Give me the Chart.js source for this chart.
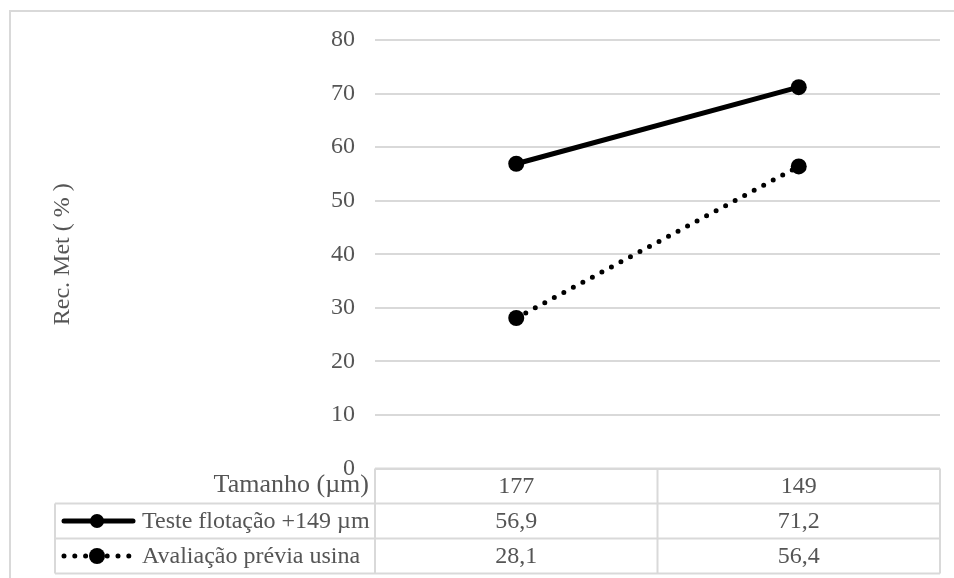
<!DOCTYPE html>
<html>
<head>
<meta charset="utf-8">
<script src="https://cdn.jsdelivr.net/npm/chart.js@4"></script>
<style>
  html, body { margin: 0; padding: 0; background: #fff; }
  #wrap { position: relative; width: 954px; height: 578px; }
</style>
</head>
<body>
<div id="wrap"><canvas id="c"></canvas></div>
<script>
// Recovery chart with an Excel-style data table under the plot.
const sizes = ['177', '149'];
const testeFlotacao = [56.9, 71.2];
const avaliacaoPrevia = [28.1, 56.4];
const seriesNames = ['Teste flotação +149 µm', 'Avaliação prévia usina'];
const yTicks = [0, 10, 20, 30, 40, 50, 60, 70, 80];

const FONT = '"Liberation Serif", "Times New Roman", serif';
const TEXT = '#555555';
const GRID = '#d9d9d9';

const fmt = v => v.toFixed(1).replace('.', ',');

// Draws the outer frame and the data table (header row + one row per series).
const dataTable = {
    id: 'dataTable',
    beforeDraw(chart) {
        const ctx = chart.ctx;
        ctx.save();
        ctx.strokeStyle = GRID;
        ctx.lineWidth = 2;
        ctx.strokeRect(10, 11, 1000, 1000);
        ctx.restore();
    },
    afterDraw(chart) {
        const ctx = chart.ctx;
        const x = chart.scales.x;
        const top = chart.chartArea.bottom;
        const rowH = 35;
        const labelLeft = 55;
        const series = chart.data.datasets;
        const rows = [top, top + rowH, top + 2 * rowH, top + 3 * rowH];

        ctx.save();
        ctx.strokeStyle = GRID;
        ctx.lineWidth = 2;
        ctx.beginPath();
        // header row: only the value cells are boxed
        ctx.moveTo(x.left, rows[0]); ctx.lineTo(x.right, rows[0]);
        for (let r = 1; r < rows.length; r++) {
            ctx.moveTo(labelLeft, rows[r]); ctx.lineTo(x.right, rows[r]);
        }
        ctx.moveTo(labelLeft, rows[1]); ctx.lineTo(labelLeft, rows[3]);
        ctx.moveTo(x.left, rows[0]); ctx.lineTo(x.left, rows[3]);
        const mid = (x.getPixelForValue(0) + x.getPixelForValue(1)) / 2;
        ctx.moveTo(mid, rows[0]); ctx.lineTo(mid, rows[3]);
        ctx.moveTo(x.right, rows[0]); ctx.lineTo(x.right, rows[3]);
        ctx.stroke();

        ctx.fillStyle = TEXT;
        ctx.textBaseline = 'middle';
        ctx.font = '26px ' + FONT;
        ctx.textAlign = 'right';
        ctx.fillText('Tamanho (µm)', x.left - 6, rows[0] + rowH / 2 - 1);

        ctx.font = '24px ' + FONT;
        ctx.textAlign = 'center';
        sizes.forEach((s, i) => ctx.fillText(s, x.getPixelForValue(i), rows[0] + rowH / 2 + 1));
        series.forEach((ds, r) => {
            const cy = rows[r + 1] + rowH / 2 + 1;
            ds.data.forEach((v, i) => ctx.fillText(fmt(v), x.getPixelForValue(i), cy));
        });

        // legend keys + series names
        ctx.textAlign = 'left';
        series.forEach((ds, r) => {
            const cy = rows[r + 1] + rowH / 2;
            ctx.strokeStyle = '#000';
            ctx.lineWidth = ds.borderWidth;
            ctx.lineCap = 'round';
            ctx.setLineDash(ds.borderDash || []);
            ctx.beginPath();
            ctx.moveTo(64, cy); ctx.lineTo(133, cy);
            ctx.stroke();
            ctx.setLineDash([]);
            ctx.fillStyle = '#000';
            ctx.beginPath();
            ctx.arc(97, cy, r === 0 ? 7 : 8, 0, Math.PI * 2);
            ctx.fill();
            ctx.fillStyle = TEXT;
            ctx.fillText(ds.label, 142, cy + 1);
        });
        ctx.restore();
    }
};

new Chart(document.getElementById('c'), {
    type: 'line',
    data: {
        labels: sizes,
        datasets: [
            {
                label: seriesNames[0],
                data: testeFlotacao,
                borderColor: '#000',
                backgroundColor: '#000',
                borderWidth: 5,
                pointRadius: 8,
                pointBorderWidth: 0,
                pointBackgroundColor: '#000',
                tension: 0,
            },
            {
                label: seriesNames[1],
                data: avaliacaoPrevia,
                borderColor: '#000',
                backgroundColor: '#000',
                borderWidth: 5,
                borderDash: [0, 10.8],
                borderCapStyle: 'round',
                pointRadius: 8,
                pointBorderWidth: 0,
                pointBackgroundColor: '#000',
                tension: 0,
            },
        ],
    },
    options: {
        responsive: true,
        maintainAspectRatio: false,
        animation: false,
        layout: { padding: { left: 0, right: 14, top: 40, bottom: 109.5 } },
        plugins: { legend: { display: false }, tooltip: { enabled: false } },
        scales: {
            x: { display: false, offset: true },
            y: {
                min: 0,
                max: 80,
                afterBuildTicks: s => { s.ticks = yTicks.map(v => ({ value: v })); },
                afterFit: s => { s.width = 375; },
                border: { display: false },
                grid: { color: GRID, lineWidth: 2, drawTicks: false },
                ticks: { padding: 20, color: TEXT, font: { family: FONT, size: 24 } },
                title: {
                    display: true,
                    text: 'Rec. Met ( % )',
                    color: TEXT,
                    font: { family: FONT, size: 24 },
                    padding: { top: 48, bottom: 0 },
                },
            },
        },
    },
    plugins: [dataTable],
});
</script>
</body>
</html>
